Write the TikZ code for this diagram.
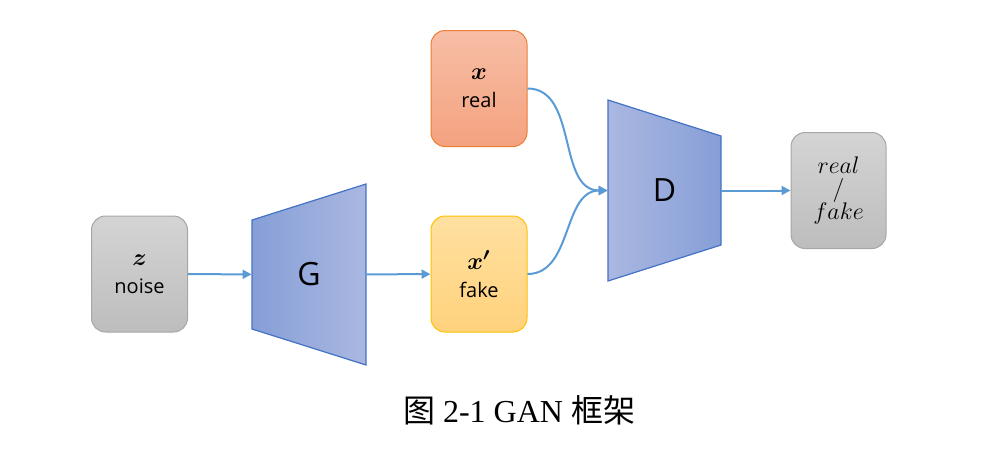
\documentclass[tikz,border=0pt]{standalone}
\usepackage{fontspec}
\usepackage{amsmath}
\setmainfont{Liberation Serif}
\newfontfamily\cjk{Noto Sans CJK SC}
\newfontfamily\labelfont{Open Sans}
\usetikzlibrary{positioning, calc, arrows.meta}

\definecolor{flowblue}{HTML}{5B9BD5}
\definecolor{trapline}{HTML}{4472C4}
\definecolor{trapdark}{HTML}{869ED7}
\definecolor{traplight}{HTML}{AAB8E1}
\definecolor{greytop}{HTML}{D4D4D4}
\definecolor{greybot}{HTML}{BDBDBD}
\definecolor{greyline}{HTML}{A6A6A6}
\definecolor{realtop}{HTML}{F7BEA6}
\definecolor{realbot}{HTML}{F4A27F}
\definecolor{realline}{HTML}{ED7D31}
\definecolor{faketop}{HTML}{FFE0A0}
\definecolor{fakebot}{HTML}{FFD27C}
\definecolor{fakeline}{HTML}{FFC000}

\newcommand{\mvar}[1]{{\fontsize{13}{14}\selectfont$\boldsymbol{#1}$}}

\begin{document}
\begin{tikzpicture}[x=0.5pt, y=-0.5pt,
      box/.style={rounded corners=7pt, minimum width=48pt, minimum height=58pt,
        align=center, font=\labelfont\fontsize{10}{14}\selectfont, line width=0.5pt},
      netlabel/.style={minimum width=57pt, minimum height=50pt, inner sep=0pt,
        font=\labelfont\fontsize{16}{18}\selectfont},
      flow/.style={-{Triangle[length=4.5pt,width=4.5pt]}, draw=flowblue, line width=1pt}
    ]
      \useasboundingbox (0,0) rectangle (988,451);

      % generator and discriminator bodies
      \shadedraw[left color=trapdark, right color=traplight, draw=trapline, line width=0.6pt]
        (252,220) -- (366,184) -- (366,365) -- (252,329) -- cycle;
      \shadedraw[left color=traplight, right color=trapdark, draw=trapline, line width=0.6pt]
        (608,100) -- (721,136) -- (721,245) -- (608,281) -- cycle;

      \node[netlabel] (G) at (309,274.5) {G};
      \node[netlabel, minimum width=56.5pt] (D) at (664.5,190.5) {D};

      \node[box, top color=greytop, bottom color=greybot, draw=greyline] (noise) at (139.5,274) {\mvar{z}\\noise};
      \node[box, top color=realtop, bottom color=realbot, draw=realline] (real) at (479,88.5) {\mvar{x}\\real};
      \node[box, top color=faketop, bottom color=fakebot, draw=fakeline] (fake) at (479,274) {\mvar{x'}\\fake};
      \node[box, minimum width=47.5pt, top color=greytop, bottom color=greybot, draw=greyline,
        font=\fontsize{12}{11.5}\selectfont] (out) at (838.5,190.5) {$real$\\$/$\\$fake$};

      \draw[flow] (noise) -- (G);
      \draw[flow] (G) -- (fake);
      \draw[flow] (real.east) to[out=0, in=180] (D.west);
      \draw[flow] (fake.east) to[out=0, in=180] (D.west);
      \draw[flow] (D) -- (out);

      \node[font=\fontsize{16}{18}\selectfont] (caption) at (519,410) {{\cjk 图} 2-1 GAN {\cjk 框架}};
    \end{tikzpicture}
\end{document}
